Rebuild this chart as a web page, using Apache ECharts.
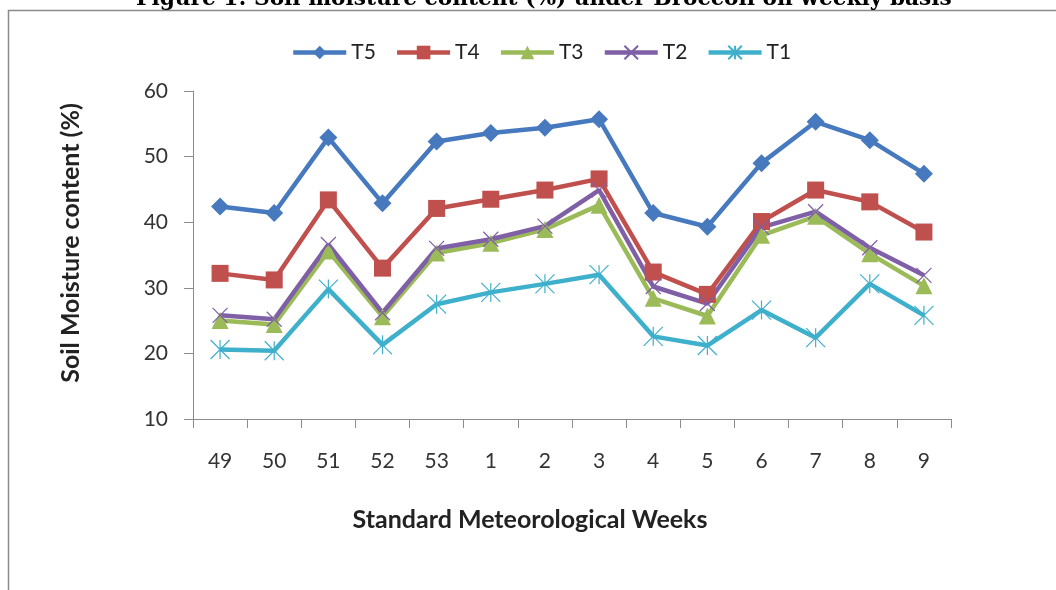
<!DOCTYPE html>
<html><head><meta charset="utf-8">
<script src="https://cdn.jsdelivr.net/npm/echarts@6/dist/echarts.min.js"></script>
<style>html,body{margin:0;padding:0;background:#fff}#c{width:1056px;height:590px}</style>
</head><body><div id="c"></div>
<script>
const weeks = ['49','50','51','52','53','1','2','3','4','5','6','7','8','9'];
const T5 = [42.4, 41.4, 52.9, 42.9, 52.3, 53.6, 54.4, 55.7, 41.4, 39.3, 49.0, 55.3, 52.5, 47.4];
const T4 = [32.2, 31.2, 43.4, 33.0, 42.1, 43.5, 44.9, 46.6, 32.4, 29.0, 40.1, 44.9, 43.1, 38.5];
const T3 = [25.0, 24.4, 35.6, 25.6, 35.3, 36.8, 38.9, 42.6, 28.4, 25.7, 38.0, 40.9, 35.2, 30.3];
const T2 = [25.8, 25.2, 36.6, 26.2, 36.0, 37.4, 39.4, 44.9, 30.2, 27.6, 39.2, 41.6, 36.1, 31.9];
const T1 = [20.6, 20.4, 29.8, 21.3, 27.5, 29.3, 30.6, 32.0, 22.6, 21.2, 26.6, 22.4, 30.6, 25.8];
const yTicks = {min: 10, max: 60, interval: 10};

const xPath = 'path://M0,0L10,10M10,0L0,10';
const starPath = 'path://M5,0L5,10M0,0L10,10M10,0L0,10';

function mk(name, data, color, symbol, size, stroke) {
  return {
    name: name, type: 'line', data: data,
    symbol: symbol, symbolSize: size,
    lineStyle: {color: color, width: 4.5},
    itemStyle: stroke ? {color: color, borderColor: color, borderWidth: 1.2} : {color: color},
    z: 2
  };
}

const chart = echarts.init(document.getElementById('c'), null, {renderer: 'canvas'});
chart.setOption({
  animation: false,
  backgroundColor: '#fff',
  title: {
    text: 'Figure 1: Soil moisture content (%) under Broccoli on weekly basis',
    left: 131, top: -17,
    textStyle: {fontFamily: 'DejaVu Serif', fontWeight: 'bold', fontSize: 21.7, color: '#000'}
  },
  graphic: [{
    type: 'rect', shape: {x: 8.5, y: 10.5, width: 1200, height: 800},
    style: {fill: 'none', stroke: '#8a8a8a', lineWidth: 1.5}, silent: true
  }],
  legend: {
    top: 37, left: 286,
    itemWidth: 53, itemHeight: 17, itemGap: 19,
    lineStyle: {width: 4.5},
    textStyle: {fontFamily: 'Lato', fontSize: 21, color: '#222'},
    data: ['T5','T4','T3','T2','T1']
  },
  grid: {left: 193, right: 105, top: 91, bottom: 171, containLabel: false},
  xAxis: {
    type: 'category', data: weeks, boundaryGap: true,
    name: 'Standard Meteorological Weeks', nameLocation: 'middle', nameGap: 88,
    nameTextStyle: {fontFamily: 'Lato', fontWeight: 'bold', fontSize: 25, color: '#222', padding: [0, 84, 0, 0]},
    axisLine: {lineStyle: {color: '#8c8c8c', width: 1}},
    axisTick: {show: true, alignWithLabel: false, length: 9, lineStyle: {color: '#8c8c8c'}},
    axisLabel: {fontFamily: 'Lato', fontSize: 21, color: '#333', margin: 32},
    splitLine: {show: false}
  },
  yAxis: {
    type: 'value', min: yTicks.min, max: yTicks.max, interval: yTicks.interval,
    name: 'Soil Moisture content (%)', nameLocation: 'middle', nameGap: 110,
    nameTextStyle: {fontFamily: 'Lato', fontWeight: 'bold', fontSize: 25, color: '#222', padding: [0, 0, 0, 24]},
    axisLine: {show: true, lineStyle: {color: '#8c8c8c', width: 1}},
    axisTick: {show: true, length: 9, inside: false, lineStyle: {color: '#8c8c8c'}},
    axisLabel: {fontFamily: 'Lato', fontSize: 21, color: '#333', margin: 25},
    splitLine: {show: false}
  },
  series: [
    mk('T5', T5, '#4679BD', 'diamond', 18, false),
    mk('T4', T4, '#C0504D', 'rect', 17, false),
    mk('T3', T3, '#9BBB59', 'triangle', 17, false),
    mk('T2', T2, '#7F5FA6', xPath, 15, true),
    mk('T1', T1, '#3FB0CB', starPath, 19, true)
  ]
});
</script></body></html>
